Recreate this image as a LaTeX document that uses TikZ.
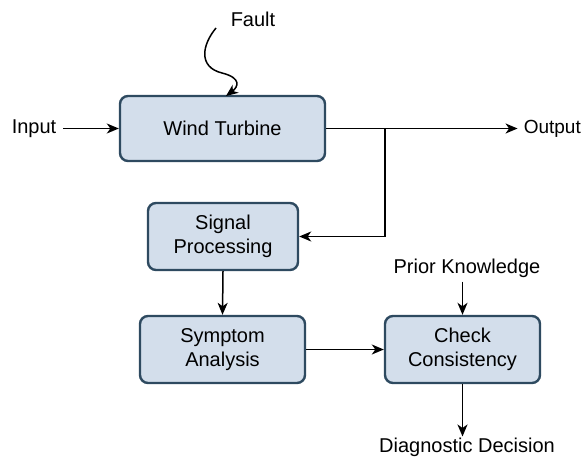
\documentclass[tikz,border=0pt]{standalone}
\usepackage{fontspec}
\setmainfont{Liberation Sans}
\usetikzlibrary{arrows.meta}
\begin{document}
\begin{tikzpicture}[x=1pt,y=-1pt,
  block/.style={draw=boxedge, fill=boxfill, line width=2.4pt, rounded corners=8pt,
    align=center, font=\fontsize{20}{24}\selectfont, inner sep=0pt},
  lbl/.style={font=\fontsize{20}{24}\selectfont, inner sep=1pt},
  conn/.style={line width=1.5pt, -{Stealth[length=12pt,width=10pt,inset=3.5pt]}}]
\definecolor{boxfill}{HTML}{D3DEEB}
\definecolor{boxedge}{HTML}{2E4A60}
\useasboundingbox (0,0) rectangle (583,460);

% processing blocks
\node[block, minimum width=205pt, minimum height=65pt] (wt) at (222.5,128.5) {Wind Turbine};
\node[block, minimum width=150pt, minimum height=67pt] (sp) at (223,236.5) {Signal\\Processing};
\node[block, minimum width=165pt, minimum height=67pt] (sa) at (222.5,349.5) {Symptom\\Analysis};
\node[block, minimum width=155pt, minimum height=67pt] (cc) at (462.5,349.5) {Check\\Consistency};

% free labels
\node[lbl] (fault) at (253,19) {Fault};
\node[lbl] (in) at (34,128.5) {Input};
\node[lbl, anchor=east, inner sep=0pt, font=\fontsize{19}{24}\selectfont] (out) at (581,128.5) {Output};
\node[lbl] (prior) at (467,268) {Prior Knowledge};
\node[lbl] (dec) at (467,447) {Diagnostic Decision};

\coordinate (faultstart) at (216,28);
\coordinate (branch) at (385,128.5);

% connectors
\draw[conn] (faultstart) .. controls (202,45) and (198,67) .. (222,73)
  .. controls (242,78) and (238,87) .. (226,96);
\draw[conn] (in.east) ++(6,0) -- (wt.west);
\draw[conn] (wt.east) -- ([xshift=-6pt]out.west);
\draw[conn] (branch) |- (sp.east);
\draw[conn] (sp.south) -- (sa.north);
\draw[conn] (sa.east) -- (cc.west);
\draw[conn] (prior.south -| cc.north) ++(0,3) -- (cc.north);
\draw[conn] (cc.south) -- (dec.north -| cc.south);
\end{tikzpicture}
\end{document}
